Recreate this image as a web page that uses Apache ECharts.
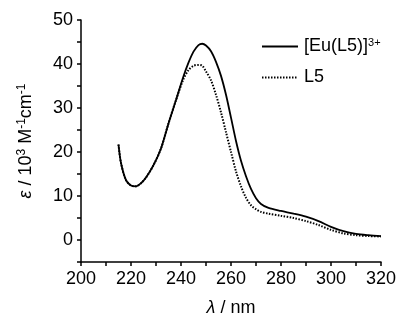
<!DOCTYPE html>
<html>
<head>
<meta charset="utf-8">
<script src="https://cdn.jsdelivr.net/npm/echarts@6/dist/echarts.min.js"></script>
<style>html,body{margin:0;padding:0;background:#fff}#c{width:401px;height:322px}</style>
</head>
<body>
<div id="c"></div>
<script>
const wavelength = [215,216,218,220,222,224,226,229,232,235,238,241,243,245,247,248.5,250,252,254,256,258,260,262,264,266,268,270,272,275,280,285,290,295,300,305,310,315,320];
const eu = [21.7,17.5,13.6,12.4,12.2,12.9,14.2,17.0,20.8,26.5,31.8,37.2,40.3,42.8,44.3,44.6,44.2,42.9,40.5,37.3,33.0,27.8,22.5,18.0,14.5,11.6,9.5,8.2,7.3,6.6,6.0,5.3,4.3,3.0,2.0,1.4,1.1,0.9];
const l5 = [21.7,17.5,13.6,12.4,12.2,12.9,14.2,17.0,20.8,26.5,31.8,36.6,38.6,39.6,39.8,39.6,38.3,36.3,33.0,29.0,24.5,20.0,15.6,12.2,9.6,7.9,7.0,6.4,6.0,5.5,5.0,4.3,3.4,2.3,1.5,1.1,0.9,0.8];
const seriesNames = ['[Eu(L5)]3+', 'L5'];
const xMin = 200, xMax = 320, xStep = 10, xLabelStep = 20;
const yMin = -5, yMax = 50, yStep = 5, yLabelStep = 10;

const font = 'Liberation Sans, Arial, sans-serif';
const chart = echarts.init(document.getElementById('c'), null, {renderer: 'canvas'});
const pairs = arr => wavelength.map((w, i) => [w, arr[i]]);
chart.setOption({
  animation: false,
  backgroundColor: '#fff',
  grid: {left: 81, right: 20, top: 20, bottom: 56},
  legend: {
    orient: 'vertical', left: 256, top: 32,
    itemWidth: 36, itemHeight: 20, itemGap: 13,
    itemStyle: {opacity: 0},
    textStyle: {fontFamily: font, fontSize: 18, color: '#000', padding: [0,0,0,1],
      rich: {sup: {fontFamily: font, fontSize: 11, color: '#000', verticalAlign: 'bottom', padding: [0,0,8,0]}}},
    formatter: n => n === seriesNames[0] ? '[Eu(L5)]{sup|3+}' : n,
    data: seriesNames
  },
  xAxis: {
    type: 'value', min: xMin, max: xMax, interval: xStep,
    name: '{i|λ} / nm', nameLocation: 'middle', nameGap: 37,
    nameTextStyle: {fontFamily: font, fontSize: 18, color: '#000',
      rich: {i: {fontFamily: font, fontSize: 18, fontStyle: 'italic', color: '#000'}}},
    axisLine: {show: true, onZero: false, lineStyle: {color: '#000', width: 1.5}},
    axisTick: {show: true, inside: false, length: 4, lineStyle: {color: '#000', width: 1.5}},
    axisLabel: {fontFamily: font, fontSize: 18, color: '#000', margin: 8,
      formatter: v => (v % xLabelStep === 0 ? String(v) : '')},
    splitLine: {show: false}
  },
  yAxis: {
    type: 'value', min: yMin, max: yMax, interval: yStep,
    name: '{i|ε} / 10{sup|3} M{sup|-1}cm{sup|-1}', nameLocation: 'middle', nameGap: 45, nameRotate: 90,
    nameTextStyle: {fontFamily: font, fontSize: 18, color: '#000',
      rich: {
        i: {fontFamily: font, fontSize: 18, fontStyle: 'italic', color: '#000'},
        sup: {fontFamily: font, fontSize: 12, color: '#000', verticalAlign: 'bottom', padding: [0,0,8,0]}
      }},
    axisLine: {show: true, onZero: false, lineStyle: {color: '#000', width: 1.5}},
    axisTick: {show: true, inside: false, length: 4, lineStyle: {color: '#000', width: 1.5}},
    axisLabel: {fontFamily: font, fontSize: 18, color: '#000', margin: 8,
      formatter: v => (v >= 0 && v % yLabelStep === 0 ? String(v) : '')},
    splitLine: {show: false}
  },
  series: [
    {name: seriesNames[0], type: 'line', data: pairs(eu), smooth: 0.3, symbol: 'none',
     lineStyle: {color: '#000', width: 1.8, type: 'solid'}, itemStyle: {color: '#000'}, z: 2},
    {name: seriesNames[1], type: 'line', data: pairs(l5), smooth: 0.3, symbol: 'none',
     lineStyle: {color: '#000', width: 2, type: [1.5, 1.5]}, itemStyle: {color: '#000'}, z: 3}
  ]
});
</script>
</body>
</html>
